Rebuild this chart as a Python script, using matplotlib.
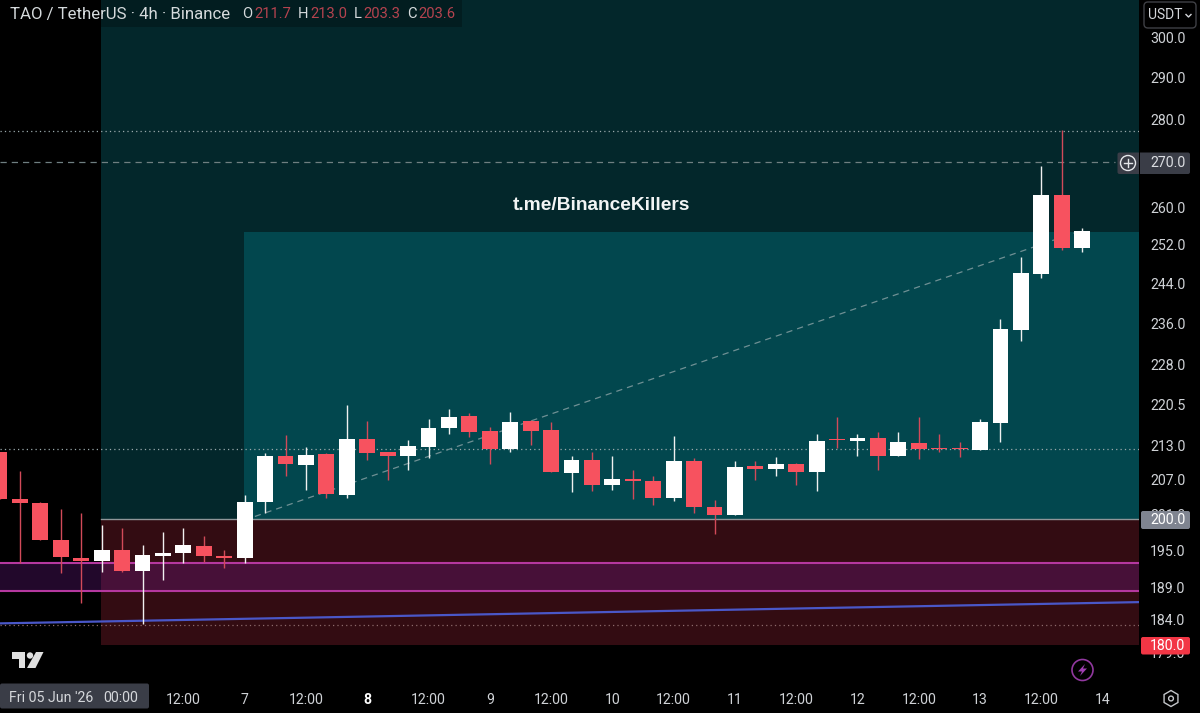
import numpy as np
import matplotlib
matplotlib.use('Agg')
import matplotlib.pyplot as plt
from matplotlib.patches import Rectangle, Circle, Polygon, FancyBboxPatch, RegularPolygon
from matplotlib.transforms import ScaledTranslation

plt.rcParams['font.family'] = ['Roboto', 'DejaVu Sans']

# 4h candles
opens = [211.6, 203.5, 202.7, 196.5, 193.7, 193.1, 195.0, 191.6, 194.0, 194.4, 195.6, 194.0, 193.6, 202.9,
         210.9, 209.4, 211.2, 204.2, 214.0, 211.6, 210.9, 212.6, 215.9, 218.1, 215.4, 212.1, 217.2, 215.6,
         208.0, 210.2, 205.9, 206.9, 206.5, 203.6, 210.1, 202.1, 200.7, 209.1, 208.7, 209.6, 208.1, 214.0,
         213.6, 214.2, 210.9, 213.3, 212.4, 212.4, 212.0, 216.9, 234.5, 245.8, 262.5, 251.1]
highs = [211.6, 208.3, 203.0, 201.7, 201.0, 199.0, 198.5, 195.8, 197.9, 198.6, 197.2, 194.9, 204.2, 211.5,
         214.6, 212.5, 211.5, 220.1, 217.2, 211.6, 213.8, 217.6, 219.5, 218.7, 216.1, 218.8, 217.4, 217.0,
         211.0, 211.7, 210.9, 208.4, 207.4, 214.5, 210.5, 203.3, 210.1, 210.0, 210.8, 209.7, 214.9, 218.0,
         214.9, 215.3, 215.2, 217.9, 214.9, 213.5, 217.5, 236.7, 249.3, 269.0, 277.2, 255.4]
lows = [203.5, 192.9, 196.5, 191.2, 186.4, 191.4, 191.3, 183.2, 190.1, 192.9, 193.0, 192.0, 192.8, 201.0,
        207.5, 205.0, 203.6, 203.7, 210.3, 206.7, 208.5, 210.6, 214.8, 214.4, 209.6, 211.6, 212.9, 208.1,
        204.6, 204.8, 205.0, 203.4, 202.4, 203.2, 201.1, 197.6, 200.7, 206.8, 207.5, 205.8, 204.9, 212.3,
        211.0, 208.5, 210.9, 210.4, 211.7, 210.8, 212.0, 213.4, 232.2, 244.8, 250.7, 250.2]
closes = [203.5, 202.7, 196.5, 193.8, 193.1, 195.0, 191.6, 194.1, 194.5, 195.7, 194.0, 193.6, 203.0, 211.0,
          209.6, 211.1, 204.3, 213.9, 211.5, 211.0, 212.7, 216.0, 217.9, 215.2, 212.1, 217.1, 215.4, 208.1,
          210.2, 205.8, 206.9, 206.5, 203.6, 210.1, 202.1, 200.7, 209.0, 208.7, 209.6, 208.2, 213.6, 213.7,
          214.1, 210.9, 213.4, 212.1, 212.1, 212.1, 217.0, 234.6, 246.0, 262.5, 251.1, 254.7]

price_ticks = [300.0, 290.0, 280.0, 270.0, 260.0, 252.0, 244.0, 236.0, 228.0, 220.5, 213.0, 207.0, 201.0,
               195.0, 189.0, 184.0, 179.0]
hour_ticks = [9, 12, 15, 18, 21, 24, 27, 30, 33, 36, 39, 42, 45, 48, 51, 54]
hour_labels = ['12:00', '7', '12:00', '8', '12:00', '9', '12:00', '10', '12:00', '11', '12:00', '12',
               '12:00', '13', '12:00', '14']

# zones and levels
zone_top, zone_mid, zone_low = 254.6, 200.0, 180.0
zone_start, box_start = 4.96, 11.97
band_hi, band_lo = 192.8, 188.4
dotted_levels = [277.0, 212.2]
dotted_low = 183.1
dashed_level = 270.0
trend_x, trend_y = [0, 55.78], [183.3, 186.6]
diag_x, diag_y = [12.5, 52.6], [200.5, 254.3]

UP = '#ffffff'
DOWN = '#f7525f'
TICK_SIZE = 10.2

fig = plt.figure(figsize=(12, 7.13), dpi=100, facecolor='black')
ax = fig.add_axes([0, 33 / 713, 1139 / 1200, 680 / 713], facecolor='black')
ax.set_yscale('log')
ax.set_xlim(0.024, 55.78)
ax.set_ylim(174.8, 309.2)

# zones
ax.fill_between([zone_start, 55.78], zone_mid, 309.2, color='#03272b', lw=0, zorder=1)
ax.fill_between([box_start, 55.78], zone_mid, zone_top, color='#02474e', lw=0, zorder=1.1)
ax.fill_between([zone_start, 55.78], zone_low, zone_mid, color='#330c12', lw=0, zorder=1)
ax.plot([zone_start, 55.78], [zone_mid, zone_mid], color='#8f9699', lw=1, zorder=1.2)
ax.fill_between([0, 55.78], band_lo, band_hi, color='#7f1ea0', alpha=0.27, lw=0, zorder=1.3)
ax.axhline(band_hi, color='#b5389f', lw=1.5, zorder=1.4)
ax.axhline(band_lo, color='#b5389f', lw=1.5, zorder=1.4)
ax.plot(trend_x, trend_y, color='#4a57c8', lw=1.6, zorder=1.5)

for lv in dotted_levels:
    ax.axhline(lv, color='#9aa9ab', lw=0.9, ls=(0, (1, 2.5)), zorder=1.6)
ax.axhline(dotted_low, color='#8c6a6a', lw=0.9, ls=(0, (1, 2.5)), zorder=1.6)
ax.plot([0, 54.6], [dashed_level, dashed_level], color='#6f7f81', lw=0.9, ls=(0, (5, 4)), zorder=1.6)
ax.plot(diag_x, diag_y, color='#6f9094', lw=0.9, ls=(0, (5, 4)), zorder=1.7)

# candles
idx = np.arange(len(opens))
opens = np.array(opens)
closes = np.array(closes)
colors = [UP if c >= o else DOWN for o, c in zip(opens, closes)]
wick_colors = ['#f0f0f0' if c >= o else '#d24a59' for o, c in zip(opens, closes)]
ax.vlines(idx, lows, highs, colors=wick_colors, lw=1.0, zorder=3)
ax.bar(idx, np.abs(closes - opens), bottom=np.minimum(opens, closes), width=0.78, color=colors, lw=0, zorder=4)

for s in ax.spines.values():
    s.set_visible(False)
ax.yaxis.tick_right()
ax.set_yticks(price_ticks)
ax.set_yticklabels([f'{p:.1f}' for p in price_ticks], fontsize=TICK_SIZE, color='#cfd2d6')
ax.minorticks_off()
ax.tick_params(axis='y', length=0, pad=8)
down_1px = ScaledTranslation(0, -1 / 100, fig.dpi_scale_trans)
for lab in ax.get_yticklabels():
    lab.set_transform(lab.get_transform() + down_1px)
ax.set_xticks(hour_ticks)
ax.set_xticklabels(hour_labels, fontsize=TICK_SIZE, color='#cfd2d6')
ax.tick_params(axis='x', length=0, pad=9)
ax.get_xticklabels()[3].set_fontweight('bold')
ax.get_xticklabels()[3].set_color('#ffffff')

# overlay in pixel coordinates for the app chrome
ov = fig.add_axes([0, 0, 1, 1], facecolor='none')
ov.set_xlim(0, 1200)
ov.set_ylim(713, 0)
ov.axis('off')

ov.text(601, 206, 't.me/BinanceKillers', family='Liberation Sans', fontweight='bold', fontsize=13.8,
        color='#f2f5f5', ha='center', va='center')

# legend strip
ov.add_patch(Rectangle((0, 0), 462, 27, color='#021a1d', lw=0, alpha=0.75))
ov.add_patch(Rectangle((0, 0), 101, 27, color='black', lw=0))
ov.text(10, 14, 'TAO / TetherUS · 4h · Binance', fontsize=12.1, color='#d5dadc', va='center')
for lab, lx, val, vx in [('O', 242, '211.7', 254), ('H', 298, '213.0', 310), ('L', 354, '203.3', 363), ('C', 407, '203.6', 418)]:
    ov.text(lx, 14, lab, fontsize=10.6, color='#d5dadc', va='center')
    ov.text(vx, 14, val, fontsize=10.6, color='#b5434f', va='center')

# price labels
ov.add_patch(FancyBboxPatch((1117.5, 152.5), 72.5, 21.5, boxstyle='round,pad=0,rounding_size=2', color='#3a3d47', lw=0))
ov.add_patch(Rectangle((1139, 152), 1, 22.5, color='black', lw=0))
ov.add_patch(Circle((1128, 163), 7.5, fill=False, ec='#e4e6ea', lw=1))
ov.plot([1124, 1132], [163, 163], color='#e4e6ea', lw=1)
ov.plot([1128, 1128], [159, 167], color='#e4e6ea', lw=1)
ov.text(1150, 163, '270.0', fontsize=TICK_SIZE, color='#dcdee2', va='center')
ov.add_patch(FancyBboxPatch((1141, 511), 49, 18, boxstyle='round,pad=0,rounding_size=2', color='#7f8490', lw=0))
ov.text(1150, 520, '200.0', fontsize=TICK_SIZE, color='#ffffff', va='center')
ov.add_patch(FancyBboxPatch((1141, 637), 49, 17.5, boxstyle='round,pad=0,rounding_size=2', color='#f23645', lw=0))
ov.text(1150, 646, '180.0', fontsize=TICK_SIZE, color='#ffffff', va='center')

# currency button
ov.add_patch(FancyBboxPatch((1144, 2), 52, 26, boxstyle='round,pad=0,rounding_size=4', fc='black', ec='#3f4045', lw=1))
ov.text(1148, 15, 'USDT', fontsize=10, color='#d5d7db', va='center')
ov.plot([1186, 1188.5, 1191], [14.5, 17, 14.5], color='#d5d7db', lw=1)

# date box on the time axis
ov.add_patch(FancyBboxPatch((0, 683.5), 149, 25, boxstyle='round,pad=0,rounding_size=2', color='#3a3d47', lw=0))
ov.text(9, 698, "Fri 05 Jun '26", fontsize=TICK_SIZE, color='#d5d7db', va='center')
ov.text(103.5, 698, '00:00', fontsize=TICK_SIZE, color='#d5d7db', va='center')

# logo, bolt and settings icons
ov.add_patch(Polygon([(12, 652), (25, 652), (25, 668), (18.5, 668), (18.5, 658.5), (12, 658.5)], color='#e0e0e0', lw=0))
ov.add_patch(Circle((30, 655.5), 3.2, color='#e0e0e0', lw=0))
ov.add_patch(Polygon([(36, 652), (43.5, 652), (35.5, 668), (27, 668)], color='#e0e0e0', lw=0))
ov.add_patch(Circle((1082.5, 670), 10.5, fill=False, ec='#91389f', lw=1.2))
ov.add_patch(Polygon([(1085, 664), (1078, 671.5), (1082, 671.5), (1080, 676), (1087, 668.5), (1083, 668.5)], color='#a13fb3', lw=0))
ov.add_patch(RegularPolygon((1171, 698.5), 6, radius=8, fill=False, ec='#c4c6ca', lw=1))
ov.add_patch(Circle((1171, 698.5), 2.4, fill=False, ec='#c4c6ca', lw=1))

fig.savefig('out.png', dpi=100, facecolor='black')
